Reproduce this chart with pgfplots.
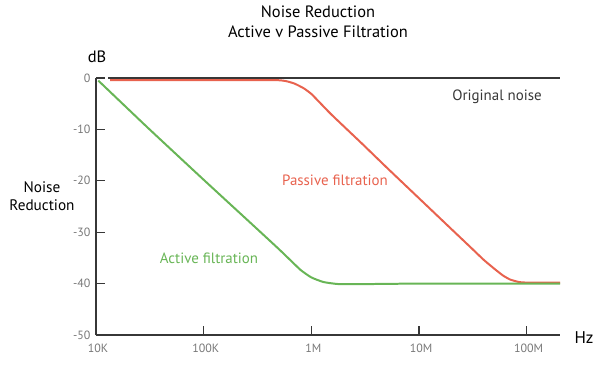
\documentclass[border=0pt]{standalone}
\usepackage{pgfplots}
\pgfplotsset{compat=1.18}
\usepackage{fontspec}
\setmainfont{PT Sans}
\definecolor{cred}{RGB}{232,98,78}
\definecolor{cgreen}{RGB}{104,181,86}
\definecolor{cdark}{RGB}{55,55,55}
\definecolor{ctick}{RGB}{120,120,120}
\begin{document}
\begin{tikzpicture}[x=1bp,y=1bp]
\useasboundingbox (0,0) rectangle (600,365);
\begin{axis}[
  at={(96bp,30bp)}, anchor=south west,
  scale only axis, width=464bp, height=257bp,
  xmode=log, xmin=1e4, xmax=2.04e8, ymin=-50, ymax=0,
  axis x line=bottom, axis y line=left,
  axis line style={-, cdark, line width=1.2pt},
  xtick={1e4,1e5,1e6,1e7,1e8},
  xticklabels={10K,100K,1M,10M,100M},
  ytick={0,-10,-20,-30,-40,-50},
  minor tick style={draw=none},
  tick align=inside,
  major tick length=9bp,
  tick style={cdark, line width=1.2pt},
  tick label style={font=\fontsize{12}{14}\selectfont, text=ctick},
  /pgf/number format/assume math mode=true,
  yticklabel style={xshift=-2bp},
  xticklabel style={yshift=-5bp, xshift=2bp},
  clip=false,
]
\addplot[cdark, line width=1.8pt] coordinates {(1.3e4,0) (2.04e8,0)};
\addplot[cred, line width=2pt, smooth, tension=0.3] coordinates {
 (1.35e4,-0.4) (1e5,-0.4) (4.5e5,-0.4) (5.8e5,-0.6) (7e5,-1.1) (8.5e5,-2.0)
 (1e6,-3.1) (1.2e6,-4.8) (1.5e6,-6.9) (2e6,-9.4) (3e6,-12.9) (5e6,-17.4) (1e7,-23.4)
 (2e7,-29.4) (3e7,-32.9) (4e7,-35.4) (5e7,-37.1) (6e7,-38.4) (7e7,-39.2) (8.5e7,-39.7)
 (1e8,-39.8) (2.04e8,-39.8)};
\addplot[cgreen, line width=2pt, smooth, tension=0.3] coordinates {
 (1.05e4,-0.5) (3e4,-9.6) (1e5,-19.8) (3e5,-29.0) (5e5,-33.3) (6.5e5,-35.6) (8e5,-37.4)
 (1e6,-38.8) (1.3e6,-39.7) (1.8e6,-40.1) (3e6,-40.1) (1e7,-40.0) (2.04e8,-40.0)};
\end{axis}
\node[font=\fontsize{16.5}{19}\selectfont] at (318,353) {Noise Reduction};
\node[font=\fontsize{16.5}{19}\selectfont] at (318,333) {Active v Passive Filtration};
\node[font=\fontsize{16.5}{19}\selectfont] at (97,308) {dB};
\node[font=\fontsize{15.3}{18}\selectfont, align=center] at (42,169) {Noise\\Reduction};
\node[font=\fontsize{15}{18}\selectfont, text=cdark] at (497,268) {Original noise};
\node[font=\fontsize{15}{18}\selectfont, text=cred] at (335,185) {Passive filtration};
\node[font=\fontsize{15}{18}\selectfont, text=cgreen] at (209,107) {Active filtration};
\node[font=\fontsize{17}{19}\selectfont] at (584,27) {Hz};
\end{tikzpicture}
\end{document}
